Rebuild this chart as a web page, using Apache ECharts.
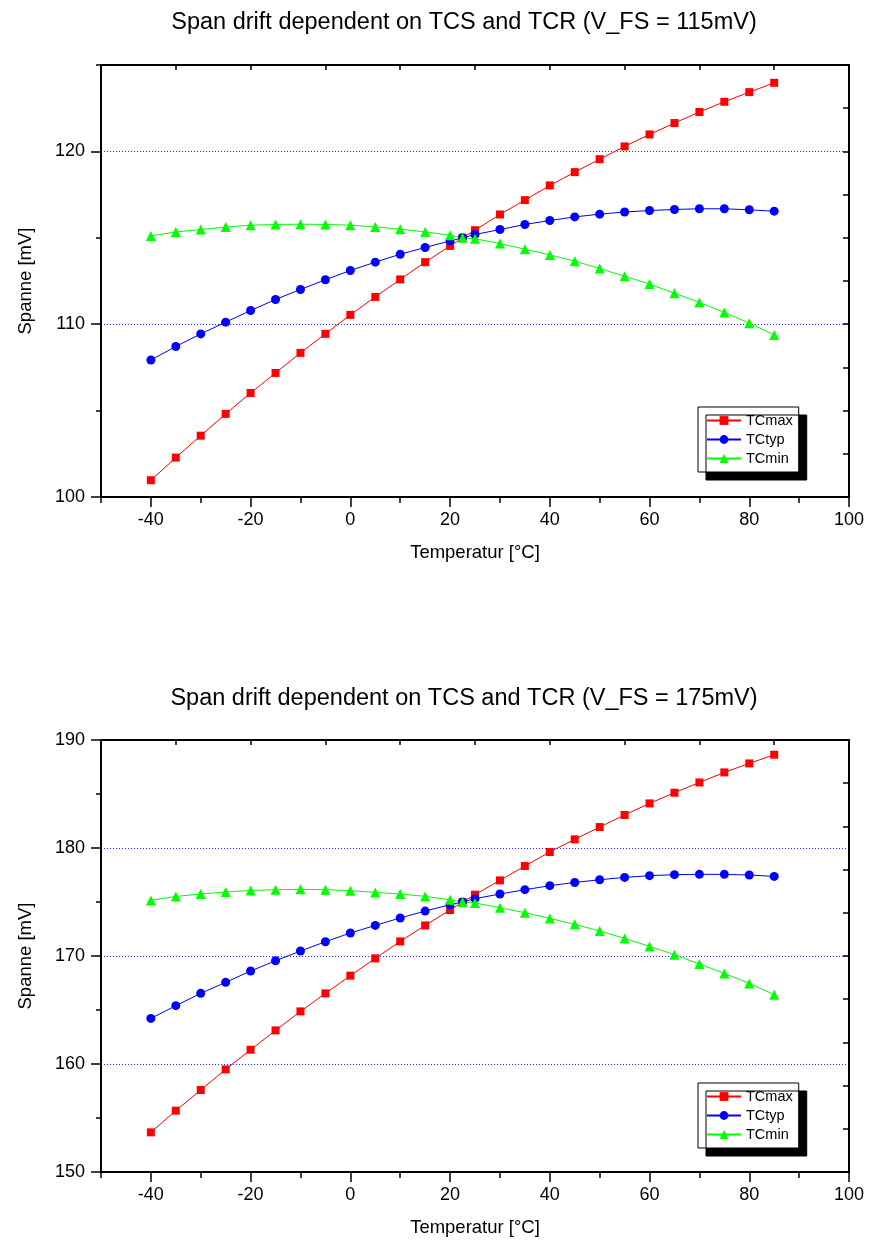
<!DOCTYPE html>
<html>
<head>
<meta charset="utf-8">
<script src="https://cdn.jsdelivr.net/npm/echarts@6/dist/echarts.min.js"></script>
<style>
html,body{margin:0;padding:0;background:#fff;}
#chart{width:869px;height:1243px;}
</style>
</head>
<body>
<div id="chart"></div>
<script>
// ---- data ----
const temps = [-40,-35,-30,-25,-20,-15,-10,-5,0,5,10,15,20,22.5,25,30,35,40,45,50,55,60,65,70,75,80,85];

const tcMax115 = [100.97,102.28,103.55,104.81,106.02,107.18,108.34,109.44,110.54,111.58,112.59,113.59,114.53,115.0,115.44,116.35,117.18,118.03,118.80,119.55,120.29,120.98,121.64,122.28,122.87,123.43,123.97];
const tcTyp115 = [107.93,108.71,109.44,110.12,110.79,111.43,112.01,112.57,113.11,113.59,114.05,114.44,114.82,115.0,115.19,115.48,115.77,116.00,116.21,116.37,116.49,116.58,116.64,116.68,116.68,116.62,116.54];
const tcMin115 = [115.11,115.34,115.48,115.62,115.73,115.77,115.79,115.77,115.73,115.63,115.50,115.34,115.15,115.0,114.94,114.67,114.34,114.01,113.65,113.22,112.78,112.32,111.79,111.26,110.68,110.06,109.38];

const tcMax175 = [153.67,155.68,157.59,159.50,161.32,163.11,164.87,166.54,168.18,169.78,171.35,172.83,174.26,175.0,175.68,177.00,178.33,179.63,180.80,181.94,183.06,184.13,185.12,186.07,187.00,187.83,188.64];
const tcTyp175 = [164.22,165.40,166.54,167.56,168.61,169.56,170.46,171.32,172.13,172.83,173.52,174.16,174.75,175.0,175.31,175.74,176.14,176.51,176.81,177.06,177.28,177.44,177.53,177.56,177.56,177.50,177.37];
const tcMin175 = [175.15,175.52,175.74,175.93,176.07,176.14,176.17,176.14,176.05,175.89,175.74,175.52,175.21,175.0,174.91,174.47,174.01,173.48,172.93,172.31,171.63,170.89,170.12,169.26,168.39,167.46,166.42];

const seriesNames = ['TCmax','TCtyp','TCmin'];
const titles = ['Span drift dependent on TCS and TCR (V_FS = 115mV)','Span drift dependent on TCS and TCR (V_FS = 175mV)'];
const xName = 'Temperatur [°C]';
const yName = 'Spanne [mV]';

// ---- tick labels / axis values ----
const xMajorTicks = [-40,-20,0,20,40,60,80,100];
const yMajorTicks115 = [100,110,120];
const yMajorTicks175 = [150,160,170,180,190];

// ---- layout / style ----
const FONT = "'Liberation Sans', Arial, sans-serif";
const colors = ['#ff0000','#0000ff','#00ff00'];
const symbols = ['rect','circle','triangle'];
const symbolSizes = [8,9,10];

const panels = [
  {top:65, height:432, yMin:100, yMax:125, yMajor:yMajorTicks115, yMinorInt:5, yRightInt:2.5, yGridInt:10,
   data:[tcMax115,tcTyp115,tcMin115], titleTop:6, legendTop:407},
  {top:740, height:432, yMin:150, yMax:190, yMajor:yMajorTicks175, yMinorInt:5, yRightInt:4, yGridInt:10,
   data:[tcMax175,tcTyp175,tcMin175], titleTop:682, legendTop:1083}
];

const black = {color:'#000', width:2};
const tickStyle = {color:'#000', width:1.5};
const labelStyle = {fontSize:18, color:'#000', fontFamily:FONT};

const grid = [], xAxis = [], yAxis = [], series = [], title = [], legend = [];

panels.forEach((p, gi) => {
  grid.push({left:101, right:20, top:p.top, height:p.height, containLabel:false});
  title.push({text:titles[gi], left:459, textAlign:'center', top:p.titleTop,
    textStyle:{fontSize:23.5, fontWeight:'normal', color:'#000', fontFamily:FONT}});

  const xBase = xAxis.length;
  xAxis.push({type:'value', gridIndex:gi, min:-50, max:100, interval:10, position:'bottom',
    axisLine:{show:true, onZero:false, lineStyle:black},
    axisTick:{show:true, inside:false, length:6, lineStyle:tickStyle},
    axisLabel:{show:false}, splitLine:{show:false}});
  xAxis.push({type:'value', gridIndex:gi, min:-50, max:100, position:'bottom',
    axisLine:{show:false, onZero:false},
    axisTick:{show:true, inside:false, length:10, lineStyle:tickStyle, customValues:xMajorTicks},
    axisLabel:{show:true, margin:14, customValues:xMajorTicks, ...labelStyle},
    splitLine:{show:false},
    name:xName, nameLocation:'middle', nameGap:46,
    nameTextStyle:{fontSize:18.5, color:'#000', fontFamily:FONT}});
  xAxis.push({type:'value', gridIndex:gi, min:-50, max:100, interval:15, position:'top',
    axisLine:{show:true, onZero:false, lineStyle:black},
    axisTick:{show:true, inside:true, length:5, lineStyle:tickStyle},
    axisLabel:{show:false}, splitLine:{show:false}});

  const yBase = yAxis.length;
  yAxis.push({type:'value', gridIndex:gi, min:p.yMin, max:p.yMax, interval:p.yMinorInt, position:'left',
    axisLine:{show:true, onZero:false, lineStyle:black},
    axisTick:{show:true, inside:false, length:5, lineStyle:tickStyle},
    axisLabel:{show:false}, splitLine:{show:false}});
  yAxis.push({type:'value', gridIndex:gi, min:p.yMin, max:p.yMax, position:'left',
    axisLine:{show:false, onZero:false},
    axisTick:{show:true, inside:false, length:10, lineStyle:tickStyle, customValues:p.yMajor},
    axisLabel:{show:true, margin:16, customValues:p.yMajor, ...labelStyle},
    splitLine:{show:false},
    name:yName, nameLocation:'middle', nameGap:66,
    nameTextStyle:{fontSize:18.5, color:'#000', fontFamily:FONT}});
  yAxis.push({type:'value', gridIndex:gi, min:p.yMin, max:p.yMax, interval:p.yRightInt, position:'right',
    axisLine:{show:true, onZero:false, lineStyle:black},
    axisTick:{show:true, inside:true, length:6, lineStyle:tickStyle},
    axisLabel:{show:false}, splitLine:{show:false}});
  yAxis.push({type:'value', gridIndex:gi, min:p.yMin, max:p.yMax, interval:p.yGridInt, position:'left',
    axisLine:{show:false, onZero:false}, axisTick:{show:false}, axisLabel:{show:false},
    splitLine:{show:true, lineStyle:{color:'#2a2aff', width:1, type:[1,2]}}});

  p.data.forEach((arr, si) => {
    series.push({
      name:seriesNames[si], type:'line', xAxisIndex:xBase, yAxisIndex:yBase,
      data: temps.map((t, i) => [t, arr[i]]),
      symbol:symbols[si], symbolSize:symbolSizes[si], showSymbol:true,
      lineStyle:{color:colors[si], width:1},
      itemStyle:{color:colors[si]},
      animation:false, z:3
    });
  });

  legend.push({
    data:seriesNames, orient:'vertical', left:698, top:p.legendTop,
    padding:[5,6,5,8], itemGap:2, itemWidth:34, itemHeight:11,
    textStyle:{fontSize:14.5, lineHeight:17, color:'#000', fontFamily:FONT},
    backgroundColor:'#fff', borderColor:'#000', borderWidth:1, borderRadius:0,
    shadowColor:'#000', shadowBlur:0, shadowOffsetX:8, shadowOffsetY:8,
    selectedMode:false
  });
});

const chart = echarts.init(document.getElementById('chart'), null, {renderer:'canvas'});
chart.setOption({
  animation:false,
  backgroundColor:'#fff',
  title, grid, xAxis, yAxis, legend, series
});
</script>
</body>
</html>
